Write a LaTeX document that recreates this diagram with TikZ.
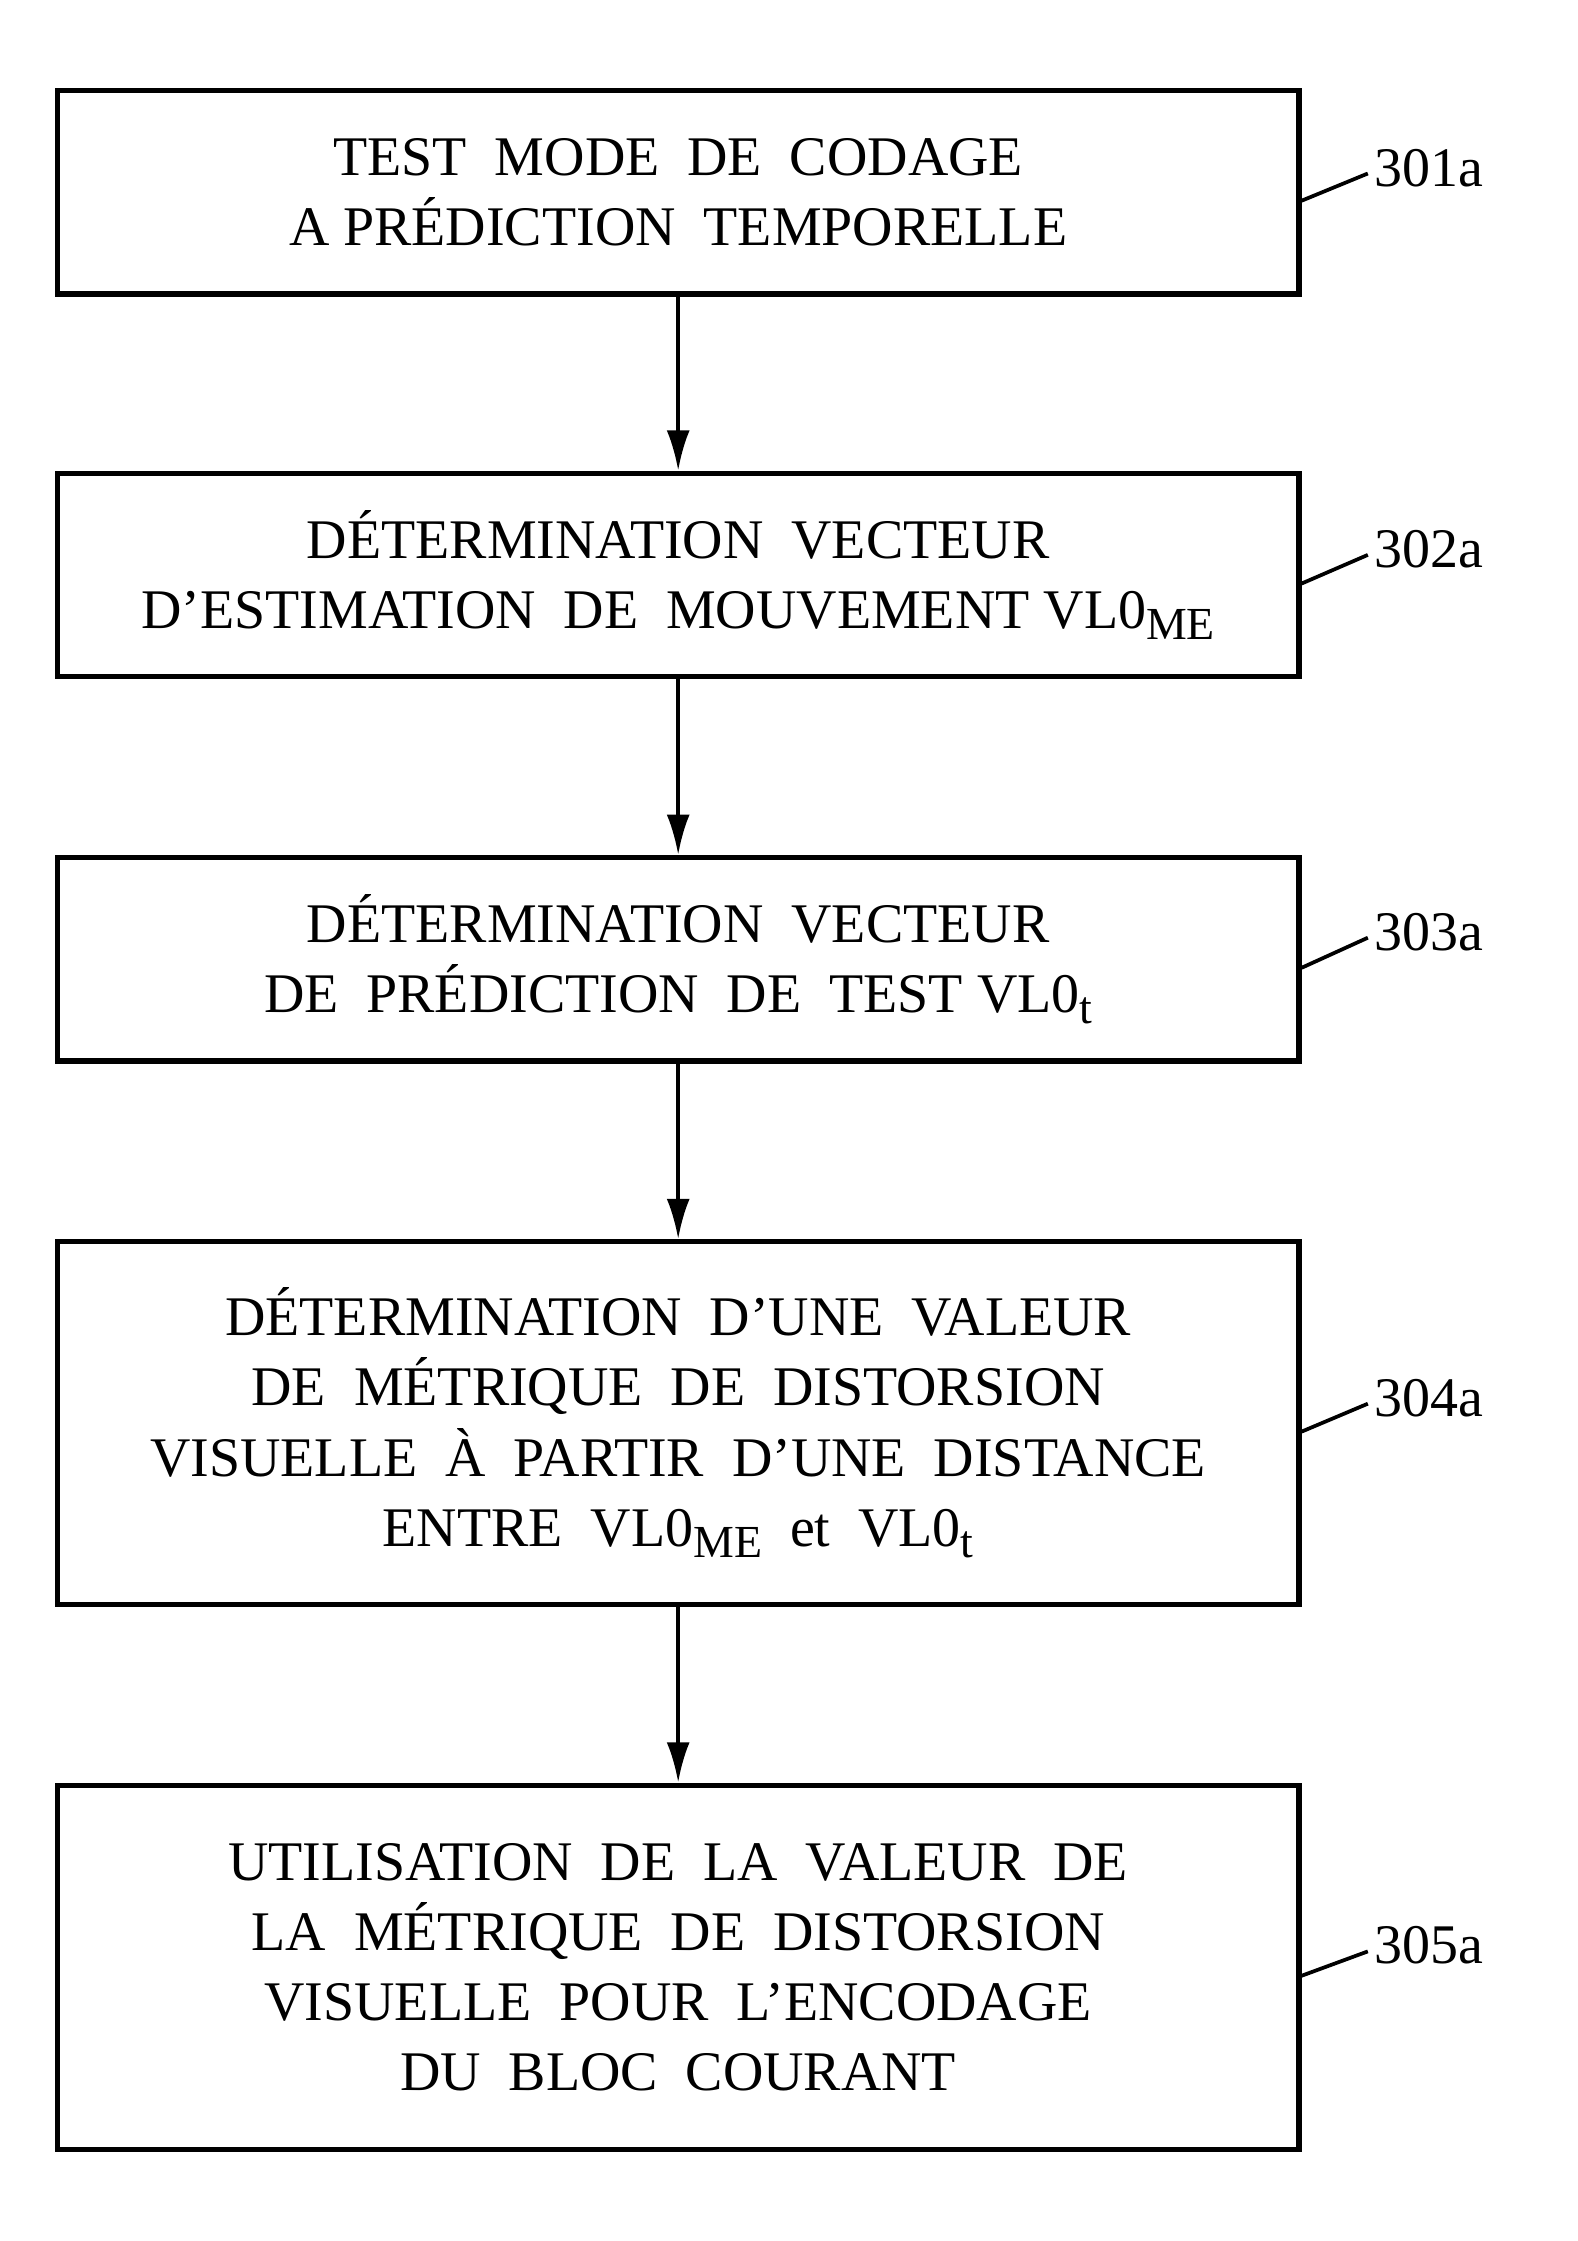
\documentclass[tikz,border=0pt]{standalone}
\usepackage{fontspec}
\setmainfont{Liberation Serif}
\usetikzlibrary{positioning,calc,arrows.meta}
\newcommand{\lowsub}[1]{\raisebox{-0.45ex}{\fontsize{16}{16}\selectfont #1}}
\begin{document}
\begin{tikzpicture}[x=0.5pt,y=-0.5pt,-{Latex[length=14pt,width=8pt]},
  stepbox/.style={draw,line width=1.8pt,minimum width=433pt,align=center,
    font=\fontsize{19.5}{24.5}\selectfont,inner sep=0pt},
  reflabel/.style={font=\fontsize{19.5}{24}\selectfont,anchor=west,inner sep=0pt},
  leader/.style={-,line width=1.3pt}]
\useasboundingbox (0,0) rectangle (1100,1563);

%%%%%%%%%%%%%%%%%%%%%% STEPS
\node[stepbox,minimum height=71pt] (s301) at (473,134) {TEST\ \ MODE\ \ DE\ \ CODAGE\\A\ PRÉDICTION\ \ TEMPORELLE};
\node[stepbox,minimum height=71pt] (s302) at (473,401) {DÉTERMINATION\ \ VECTEUR\\D’ESTIMATION\ \ DE\ \ MOUVEMENT VL0\lowsub{ME}};
\node[stepbox,minimum height=71pt] (s303) at (473,669) {DÉTERMINATION\ \ VECTEUR\\DE\ \ PRÉDICTION\ \ DE\ \ TEST VL0\lowsub{t}};
\node[stepbox,minimum height=126.5pt] (s304) at (473,992.5) {DÉTERMINATION\ \ D’UNE\ \ VALEUR\\DE\ \ MÉTRIQUE\ \ DE\ \ DISTORSION\\VISUELLE\ \ À\ \ PARTIR\ \ D’UNE\ \ DISTANCE\\ENTRE\ \ VL0\lowsub{ME}\ \ et\ \ VL0\lowsub{t}};
\node[stepbox,minimum height=127pt] (s305) at (473,1372) {UTILISATION\ \ DE\ \ LA\ \ VALEUR\ \ DE\\LA\ \ MÉTRIQUE\ \ DE\ \ DISTORSION\\VISUELLE\ \ POUR\ \ L’ENCODAGE\\DU\ \ BLOC\ \ COURANT};

\draw[line width=1.3pt] (s301) -- (s302);
\draw[line width=1.3pt] (s302) -- (s303);
\draw[line width=1.3pt] (s303) -- (s304);
\draw[line width=1.3pt] (s304) -- (s305);

%%%%%%%%%%%%%%%%%%%%%% LABELS
\node[reflabel] (l301) at (958,117) {301a};
\node[reflabel] (l302) at (958,383) {302a};
\node[reflabel] (l303) at (958,650) {303a};
\node[reflabel] (l304) at (958,975) {304a};
\node[reflabel] (l305) at (958,1357) {305a};
\foreach \n in {301,302,303,304,305}
  \draw[leader] ($(s\n.east)+(0,6)$) -- ($(l\n.west)+(-4,4)$);
\end{tikzpicture}
\end{document}
